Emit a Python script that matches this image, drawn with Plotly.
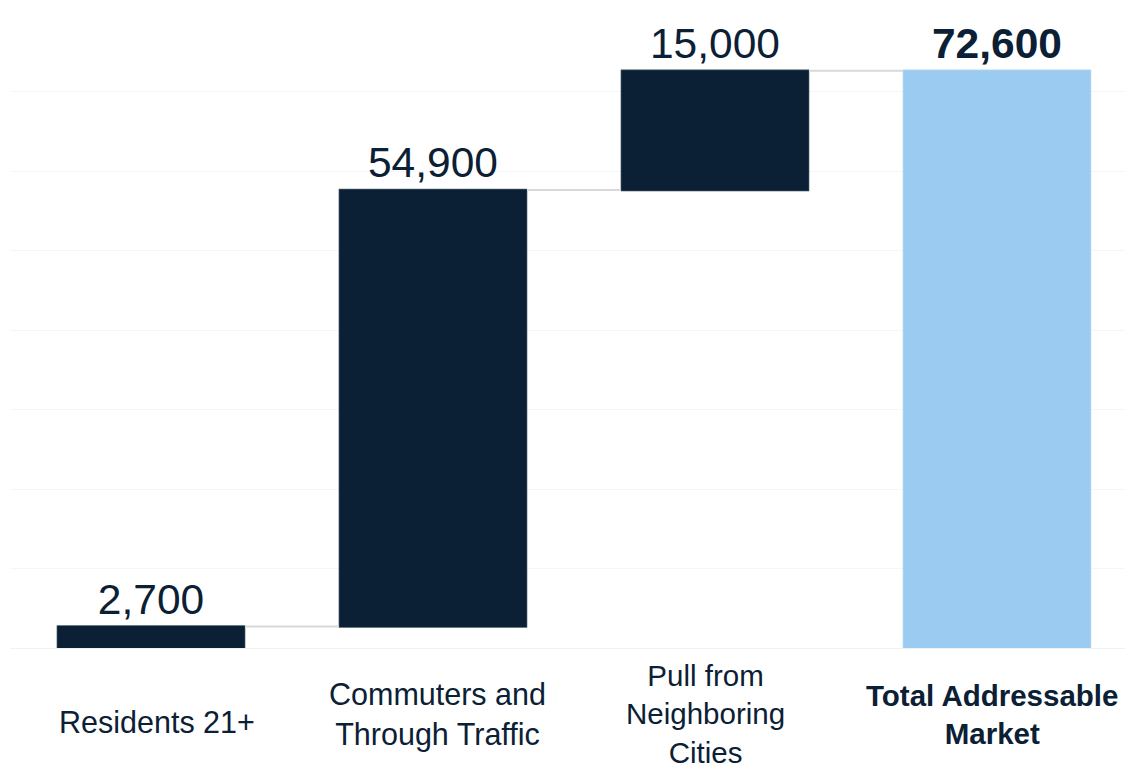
import plotly.graph_objects as go

# Market build-up components
categories = ["Residents 21+", "Commuters and<br>Through Traffic",
              "Pull from<br>Neighboring<br>Cities", "<b>Total Addressable<br>Market</b>"]
measures = ["relative", "relative", "relative", "total"]
values = [2700, 54900, 15000, 0]

total = sum(v for v, m in zip(values, measures) if m == "relative")
label_values = [v if m == "relative" else total for v, m in zip(values, measures)]
labels = [f"{v:,}" if m == "relative" else f"<b>{v:,}</b>"
          for v, m in zip(label_values, measures)]

NAVY = "#0B2035"
LIGHT_BLUE = "#9BCBF1"
FONT = "Liberation Sans, Arial, sans-serif"

x_pos = list(range(len(categories)))

fig = go.Figure(go.Waterfall(
    x=x_pos,
    y=values,
    measure=measures,
    text=labels,
    textposition="outside",
    textfont=dict(family=FONT, size=42.5, color=NAVY),
    cliponaxis=False,
    width=0.667,
    increasing=dict(marker=dict(color=NAVY, line=dict(color="#5A6B7C", width=0.6))),
    decreasing=dict(marker=dict(color=NAVY)),
    totals=dict(marker=dict(color=LIGHT_BLUE, line=dict(color="#C4E0F7", width=0.6))),
    connector=dict(mode="between", line=dict(color="#D9D9D9", width=2)),
    hoverinfo="skip",
))

# Category labels beneath the bars
label_sizes = [30.5, 30.5, 29.5, 29.5]
label_dx = [6, 5, -9, -5]
label_dy = [-8, 0, 0, 0]
for xi, cat, fs, dx, dy in zip(x_pos, categories, label_sizes, label_dx, label_dy):
    fig.add_annotation(
        x=xi, y=-0.104, xref="x", yref="paper",
        text=cat, showarrow=False,
        xanchor="center", yanchor="middle", align="center",
        xshift=dx, yshift=dy,
        font=dict(family=FONT, size=fs, color=NAVY),
    )

fig.update_layout(
    width=1125, height=771,
    margin=dict(l=10, r=0, t=12, b=123),
    paper_bgcolor="white", plot_bgcolor="white",
    showlegend=False,
    xaxis=dict(range=[-0.5, 3.454], showticklabels=False, showgrid=False,
               zeroline=False, showline=False, ticks=""),
    yaxis=dict(range=[0, 80000], dtick=10000, showticklabels=False,
               showgrid=True, gridcolor="#F6F6F6", gridwidth=1,
               zeroline=True, zerolinecolor="#F2F2F2", zerolinewidth=1,
               showline=False, ticks=""),
)

fig.write_html("out.html")
